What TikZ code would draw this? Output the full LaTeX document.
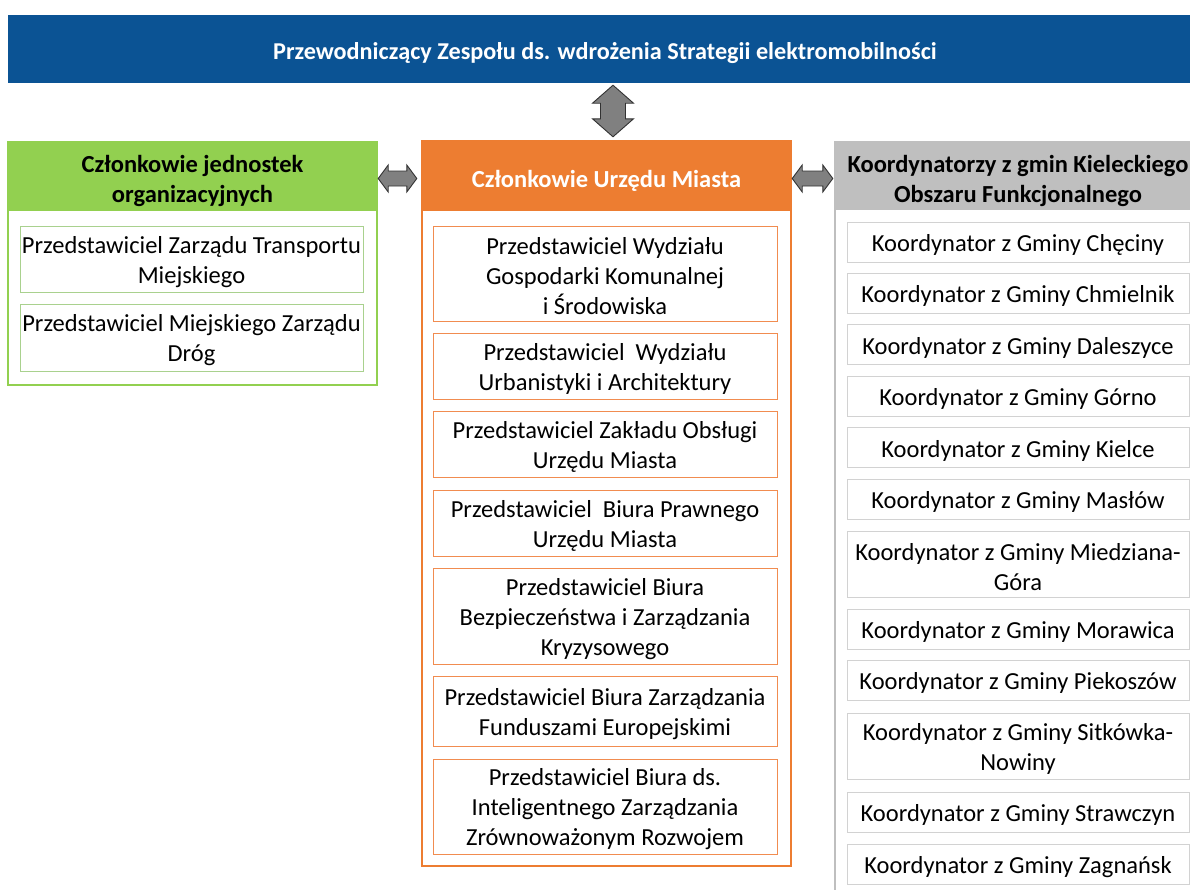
\documentclass[tikz,border=0pt]{standalone}
\usepackage{fontspec}
\setmainfont{Carlito}
\usetikzlibrary{calc}
\definecolor{topblue}{RGB}{11,83,148}
\definecolor{grn}{RGB}{146,208,80}
\definecolor{grnl}{RGB}{169,209,142}
\definecolor{orn}{RGB}{237,125,49}
\definecolor{ornl}{RGB}{241,140,80}
\definecolor{gryh}{RGB}{191,191,191}
\definecolor{gryl}{RGB}{210,210,210}
\definecolor{arrfill}{RGB}{128,128,128}
\definecolor{arrline}{RGB}{50,50,50}
% #1 box style, #2 name, #3 position, #4 text, #5 text style
\newcommand\bxnode[5]{%
  \node[#1] (#2) at #3 {};
  \node[txtnode, #5] (#2-t) at ([yshift=-3pt]#2.center) {#4};}
\begin{document}
\begin{tikzpicture}[x=1pt,y=-1pt,
  txtnode/.style={inner sep=0pt, align=center, font=\fontsize{24.5}{30}\selectfont},
  hd/.style={font=\fontsize{24.5}{30}\selectfont\bfseries},
  box/.style={rectangle, inner sep=0pt},
  outer/.style={box, line width=2pt, fill=white},
  lin/.style={box, draw=grnl, line width=1pt, minimum width=343},
  cin/.style={box, draw=ornl, line width=1pt, minimum width=344},
  rin/.style={box, draw=gryl, line width=1pt, minimum width=342},
  blockarrow/.style={fill=arrfill, draw=arrline, line width=0.9pt, line join=miter}
]
\useasboundingbox (0,0) rectangle (1190,889);
\clip (0,0) rectangle (1190,889);

% top bar
\node[box, fill=topblue, minimum width=1194, minimum height=68] (top) at (605,49) {};
\node[txtnode, text=white, font=\fontsize{24.2}{29}\selectfont\bfseries] (top-t)
  at ([yshift=-4pt]top.center)
  {Przewodniczący Zespołu ds. wdrożenia Strategii elektromobilności};

% left column
\node[outer, draw=grn, minimum width=369, minimum height=243] (lbox) at (192.5,263.5) {};
\bxnode{box, fill=grn, minimum width=369, minimum height=69}{lhead}{(192.5,176.5)}
  {Członkowie jednostek\\organizacyjnych}{hd, yshift=-1.5pt}
\bxnode{lin, minimum height=66}{l1}{(191.5,259)}{Przedstawiciel Zarządu Transportu\\Miejskiego}{}
\bxnode{lin, minimum height=67}{l2}{(191.5,337.5)}{Przedstawiciel Miejskiego Zarządu\\Dróg}{}

% centre column
\node[outer, draw=orn, minimum width=369, minimum height=725] (cbox) at (606.5,503.5) {};
\bxnode{box, fill=orn, minimum width=369, minimum height=70}{chead}{(606.5,176)}
  {Członkowie Urzędu Miasta}{hd, text=white, yshift=-1.5pt}
\bxnode{cin, minimum height=95}{c1}{(605,273.5)}{Przedstawiciel Wydziału\\Gospodarki Komunalnej\\i Środowiska}{}
\bxnode{cin, minimum height=66}{c2}{(605,366)}{Przedstawiciel\ \ Wydziału\\Urbanistyki i Architektury}{}
\bxnode{cin, minimum height=66}{c3}{(605,444)}{Przedstawiciel Zakładu Obsługi\\Urzędu Miasta}{}
\bxnode{cin, minimum height=66}{c4}{(605,523)}{Przedstawiciel\ \ Biura Prawnego\\Urzędu Miasta}{}
\bxnode{cin, minimum height=96}{c5}{(605,616)}{Przedstawiciel Biura\\Bezpieczeństwa i Zarządzania\\Kryzysowego}{}
\bxnode{cin, minimum height=70}{c6}{(605,711)}{Przedstawiciel Biura Zarządzania\\Funduszami Europejskimi}{}
\bxnode{cin, minimum height=95}{c7}{(605,806.5)}{Przedstawiciel Biura ds.\\Inteligentnego Zarządzania\\Zrównoważonym Rozwojem}{}

% right column
\node[outer, draw=gryh, minimum width=366, minimum height=760] (rbox) at (1018,522) {};
\bxnode{box, fill=gryh, minimum width=366, minimum height=68}{rhead}{(1018,176)}
  {Koordynatorzy z gmin Kieleckiego\\Obszaru Funkcjonalnego}{hd, yshift=-1.5pt}
\bxnode{rin, minimum height=40}{r1}{(1018,242)}{Koordynator z Gminy Chęciny}{}
\bxnode{rin, minimum height=40}{r2}{(1018,293)}{Koordynator z Gminy Chmielnik}{}
\bxnode{rin, minimum height=40}{r3}{(1018,344.5)}{Koordynator z Gminy Daleszyce}{}
\bxnode{rin, minimum height=40}{r4}{(1018,396)}{Koordynator z Gminy Górno}{}
\bxnode{rin, minimum height=40}{r5}{(1018,447.5)}{Koordynator z Gminy Kielce}{}
\bxnode{rin, minimum height=40}{r6}{(1018,499)}{Koordynator z Gminy Masłów}{}
\bxnode{rin, minimum height=66}{r7}{(1018,564)}{Koordynator z Gminy Miedziana-\\Góra}{}
\bxnode{rin, minimum height=40}{r8}{(1018,629)}{Koordynator z Gminy Morawica}{}
\bxnode{rin, minimum height=40}{r9}{(1018,680)}{Koordynator z Gminy Piekoszów}{}
\bxnode{rin, minimum height=66}{r10}{(1018,746)}{Koordynator z Gminy Sitkówka-\\Nowiny}{}
\bxnode{rin, minimum height=40}{r11}{(1018,812)}{Koordynator z Gminy Strawczyn}{}
\bxnode{rin, minimum height=40}{r12}{(1018,864)}{Koordynator z Gminy Zagnańsk}{}

% block arrows (connectors)
\coordinate (v1) at ($(top.south)+(8,2)$);
\coordinate (v2) at ($(chead.north)+(6.5,-4)$);
\draw[blockarrow] (v1) -- ++(20.5,18) -- ++(-8,0) -- ($(v2)+(12.5,-18)$) -- ++(8,0) -- (v2)
  -- ++(-20.5,-18) -- ++(8,0) -- ($(v1)+(-12.5,18)$) -- ++(-8,0) -- cycle;

\coordinate (h1) at ($(lhead.east)+(1,2)$);
\coordinate (h2) at ($(chead.west)+(-5,2.5)$);
\draw[blockarrow] (h1) -- ++(10,-13.5) -- ++(0,6) -- ($(h2)+(-10,-7.5)$) -- ++(0,-6) -- (h2)
  -- ++(-10,13.5) -- ++(0,-6) -- ($(h1)+(10,7.5)$) -- ++(0,6) -- cycle;

\coordinate (h3) at ($(chead.east)+(1,2.5)$);
\coordinate (h4) at ($(rhead.west)+(-2,2.5)$);
\draw[blockarrow] (h3) -- ++(10,-13.5) -- ++(0,6) -- ($(h4)+(-10,-7.5)$) -- ++(0,-6) -- (h4)
  -- ++(-10,13.5) -- ++(0,-6) -- ($(h3)+(10,7.5)$) -- ++(0,6) -- cycle;
\end{tikzpicture}
\end{document}
